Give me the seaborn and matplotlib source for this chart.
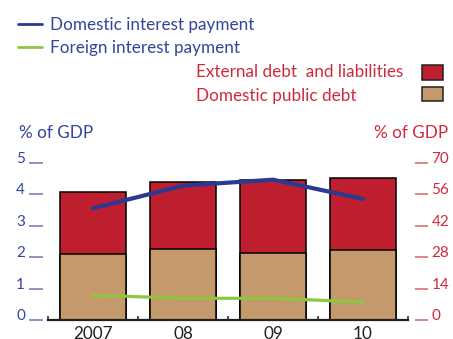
import numpy as np
import pandas as pd
import matplotlib
matplotlib.use("Agg")
import matplotlib.pyplot as plt
import matplotlib.patches as mpatches
from matplotlib.lines import Line2D
import seaborn as sns

# ---- data ----
years = ["2007", "08", "09", "10"]
domestic_debt = [29.5, 31.6, 29.7, 31.3]          # % of GDP (right axis)
external_debt = [27.3, 29.7, 32.6, 31.7]          # % of GDP (right axis)
domestic_interest = [3.55, 4.27, 4.46, 3.85]      # % of GDP (left axis)
foreign_interest = [0.79, 0.69, 0.69, 0.57]       # % of GDP (left axis)
left_ticks = [0, 1, 2, 3, 4, 5]
right_ticks = [0, 14, 28, 42, 56, 70]
line_labels = ["Domestic interest payment", "Foreign interest payment"]
bar_labels = ["External debt  and liabilities", "Domestic public debt"]

sns.set_theme(style="white")
FONT = "Lato"
plt.rcParams['font.family'] = [FONT, 'DejaVu Sans']

BLUE_TXT = "#34449a"
RED_TXT = "#cf2a3c"
BLUE_LINE = "#2b3990"
GREEN_LINE = "#8dc63f"
RED_BAR = "#be1e2d"
TAN_BAR = "#c49a6c"
FS = 11        # tick labels
FS_T = 12.3    # legend / titles

W, H = 453, 339
fig = plt.figure(figsize=(W / 100, H / 100), dpi=100)

def fx(px):
    return px / W

def fy(py):
    return 1 - py / H

left, right, top, bottom = 48, 408, 162.7, 320
ax = fig.add_axes([fx(left), fy(bottom), fx(right - left), (bottom - top) / H])

df = pd.DataFrame({
    "year": years,
    "domestic": domestic_debt,
    "total": np.array(domestic_debt) + np.array(external_debt),
    "dom_int": domestic_interest,
    "for_int": foreign_interest,
    "pos": np.arange(len(years)),
})

# stacked bars on primary axis (right scale)
sns.barplot(data=df, x="year", y="total", color=RED_BAR, saturation=1,
            edgecolor="black", linewidth=1.1, width=0.73, ax=ax)
sns.barplot(data=df, x="year", y="domestic", color=TAN_BAR, saturation=1,
            edgecolor="black", linewidth=1.1, width=0.73, ax=ax)
ax.set_xlim(-0.5, len(years) - 0.5)
ax.set_ylim(0, 70)
ax.set_xlabel("")
ax.set_ylabel("")

# lines on twin axis (left scale)
ax2 = ax.twinx()
sns.lineplot(data=df, x="pos", y="dom_int", color=BLUE_LINE, linewidth=3, ax=ax2)
sns.lineplot(data=df, x="pos", y="for_int", color=GREEN_LINE, linewidth=2.3, ax=ax2)
ax2.set_ylim(0, 5)
ax2.set_xlim(-0.5, len(years) - 0.5)
ax2.set_xlabel("")
ax2.set_ylabel("")

# y axes placement
ax.yaxis.tick_right()
ax2.yaxis.tick_left()
for s in ["top", "left", "right"]:
    ax.spines[s].set_visible(False)
for s in ["top", "left", "right", "bottom"]:
    ax2.spines[s].set_visible(False)
ax.spines["bottom"].set_color("#231f20")
ax.spines["bottom"].set_linewidth(1.6)
ax.spines["right"].set_position(("outward", 5))
ax2.spines["left"].set_position(("outward", 3.6))

ax.set_yticks(right_ticks)
ax.set_yticklabels([str(t) for t in right_ticks])
ax2.set_yticks(left_ticks)
ax2.set_yticklabels([str(t) for t in left_ticks])

ax.tick_params(axis="y", which="major", right=True, left=False, length=9.4, width=1.1,
               color="#d9606b", labelcolor=RED_TXT, labelsize=FS, pad=2.5)
ax2.tick_params(axis="y", which="major", left=True, right=False, length=10, width=1.1,
                color="#6b76b5", labelcolor=BLUE_TXT, labelsize=FS, pad=3)
plt.setp(ax.get_yticklabels(), va="baseline", family=[FONT, 'DejaVu Sans'])
plt.setp(ax2.get_yticklabels(), va="baseline", family=[FONT, 'DejaVu Sans'])

# x axis ticks
ax.set_xticks(np.arange(len(years)))
ax.set_xticklabels(years)
ax.set_xticks(np.arange(len(years) + 1) - 0.5, minor=True)
ax.tick_params(axis="x", which="major", length=0, labelsize=FS_T, labelcolor="#231f20", pad=4.3)
ax.tick_params(axis="x", which="minor", bottom=True, direction="in", length=3, width=1.1,
               color="#231f20")
ax2.tick_params(axis="x", which="both", bottom=False, top=False, labelbottom=False)
ax.grid(False)
ax2.grid(False)

# axis titles
fig.text(fx(19), fy(133), "% of GDP", color=BLUE_TXT, fontsize=FS_T, ha="left", va="center")
fig.text(fx(448), fy(133), "% of GDP", color=RED_TXT, fontsize=FS_T, ha="right", va="center")

# legend for the lines
line_handles = [Line2D([], [], color=BLUE_LINE, linewidth=2),
                Line2D([], [], color=GREEN_LINE, linewidth=2)]
leg1 = fig.legend(line_handles, line_labels,
                  loc="upper left", bbox_to_anchor=(fx(18), fy(17)), frameon=False,
                  borderpad=0, borderaxespad=0, handlelength=1.4, handletextpad=0.47,
                  labelspacing=0.39, fontsize=FS_T)
for t in leg1.get_texts():
    t.set_color(BLUE_TXT)

# legend for the bars: swatches on the right, left-aligned labels
bar_handles = [mpatches.Patch(facecolor=RED_BAR, edgecolor="#231f20", linewidth=1.1),
               mpatches.Patch(facecolor=TAN_BAR, edgecolor="#231f20", linewidth=1.1)]
leg2 = fig.legend(bar_handles, ["", ""],
                  loc="upper right", bbox_to_anchor=(fx(443), fy(65.5)), frameon=False,
                  borderpad=0, borderaxespad=0, handlelength=1.37, handleheight=1.05,
                  handletextpad=0, labelspacing=0.39, fontsize=FS, markerfirst=False)
for lbl, ypx in zip(bar_labels, [72, 96.5]):
    fig.text(fx(196), fy(ypx), lbl, color=RED_TXT, fontsize=FS_T, ha="left", va="center")

fig.savefig("out.png", dpi=100)
